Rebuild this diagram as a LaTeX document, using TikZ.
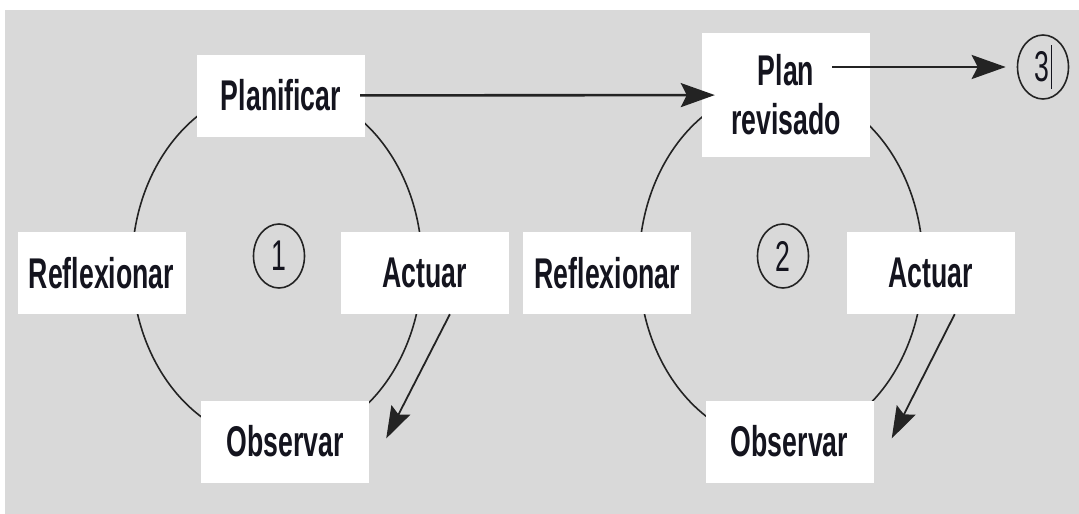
\documentclass[tikz,border=0pt]{standalone}
\usepackage{fontspec}
\setmainfont[FakeStretch=0.62]{Liberation Sans}
\usetikzlibrary{positioning,shapes.geometric,arrows.meta}
\definecolor{fondo}{RGB}{217,217,217}
\definecolor{trazo}{RGB}{35,35,35}
\definecolor{letra}{RGB}{20,20,30}
\begin{document}
\begin{tikzpicture}[
        x=1pt, y=-1pt,
        caja/.style={fill=white, text=letra, align=center, inner sep=0pt, minimum width=168pt, minimum height=82pt, font=\fontsize{43}{49}\selectfont\bfseries},
        numero/.style={ellipse, draw=trazo, text=letra, line width=1.6pt, inner sep=0pt, minimum width=51pt, minimum height=64pt, font=\fontsize{43}{49}\selectfont},
        ciclo/.style={draw=trazo, line width=1.6pt},
        flecha/.style={-{Stealth[length=34pt, width=24pt, inset=6pt]}, line width=2.6pt, draw=trazo},
        flechita/.style={-{Stealth[length=32pt, width=21pt, inset=5pt]}, line width=1.8pt, draw=trazo}
    ]
        \useasboundingbox (0,0) rectangle (1079,514);
        \fill[fondo] (5,10) rectangle (1079,514);

        % los dos ciclos
        \draw[ciclo] (277,265) ellipse [x radius=145pt, y radius=178pt];
        \draw[ciclo] (781,265) ellipse [x radius=142pt, y radius=178pt];

        % ciclo 1
        \node[caja] (planificar) at (281,95.5) {Planificar};
        \node[caja] (reflexionar) at (101.5,273) {Reflexionar};
        \node[caja, right=155pt of reflexionar] (actuar) {Actuar};
        \node[caja] (observar) at (285,441.5) {Observar};
        \node[numero] (uno) at (279,256) {1};

        % ciclo 2
        \node[caja, minimum height=124pt] (revisado) at (786,95) {Plan\\revisado};
        \node[caja, right=14pt of actuar] (reflexionar2) {Reflexionar};
        \node[caja, right=155pt of reflexionar2] (actuar2) {Actuar};
        \node[caja] (observar2) at (789.5,441.5) {Observar};
        \node[numero] (dos) at (783,256) {2};

        \node[numero] (tres) at (1043,67) {3\kern2pt\rule[-8pt]{0.9pt}{44pt}};
        \coordinate (salida) at (832,67);

        \draw[flecha, shorten <=-5pt, shorten >=-13pt] (planificar) -- (revisado);
        \draw[flecha, shorten >=11pt] (salida) -- (tres);
        \draw[flechita] ([xshift=25pt]actuar.south) -- ([xshift=17pt, yshift=3pt]observar.east);
        \draw[flechita] ([xshift=24pt]actuar2.south) -- ([xshift=18pt, yshift=3pt]observar2.east);
\end{tikzpicture}
\end{document}
